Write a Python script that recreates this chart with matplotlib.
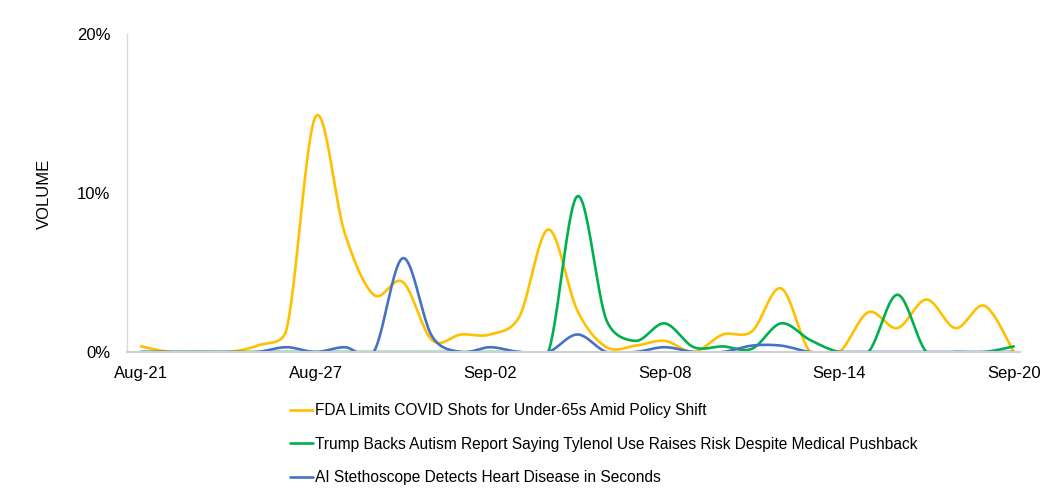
import numpy as np
import matplotlib.pyplot as plt
from matplotlib.ticker import FuncFormatter

plt.rcParams['font.family'] = ['Liberation Sans', 'DejaVu Sans']

# daily dates Aug-21 .. Sep-20
dates = ['Aug-21', 'Aug-22', 'Aug-23', 'Aug-24', 'Aug-25', 'Aug-26', 'Aug-27',
         'Aug-28', 'Aug-29', 'Aug-30', 'Aug-31', 'Sep-01', 'Sep-02', 'Sep-03',
         'Sep-04', 'Sep-05', 'Sep-06', 'Sep-07', 'Sep-08', 'Sep-09', 'Sep-10',
         'Sep-11', 'Sep-12', 'Sep-13', 'Sep-14', 'Sep-15', 'Sep-16', 'Sep-17',
         'Sep-18', 'Sep-19', 'Sep-20']
tick_labels = ['Aug-21', 'Aug-27', 'Sep-02', 'Sep-08', 'Sep-14', 'Sep-20']

fda_covid = [0.35, 0, 0, 0, 0.4, 1.4, 14.8, 7.5, 3.6, 4.4, 0.75, 1.1, 1.1, 2.2,
             7.7, 2.6, 0.3, 0.4, 0.7, 0, 1.1, 1.3, 4.0, 0, 0, 2.5, 1.5, 3.3,
             1.5, 2.9, 0]
tylenol = [0, 0, 0, 0, 0, 0, 0, 0, 0, 0, 0, 0, 0, 0,
           0, 9.8, 2.0, 0.7, 1.8, 0.3, 0.35, 0.2, 1.8, 0.75, 0, 0, 3.6, 0,
           0, 0, 0.35]
stethoscope = [0, 0, 0, 0, 0, 0.3, 0, 0.3, 0, 5.9, 1.0, 0, 0.3, 0,
               0, 1.1, 0, 0, 0.3, 0, 0, 0.4, 0.4, 0, 0, 0, 0, 0,
               0, 0, 0]

labels = ['FDA Limits COVID Shots for Under-65s Amid Policy Shift',
          'Trump Backs Autism Report Saying Tylenol Use Raises Risk Despite Medical Pushback',
          'AI Stethoscope Detects Heart Disease in Seconds']
colors = ['#FFC000', '#00B050', '#4472C4']

# rough pixel size of one day / one percent, used so smoothing behaves like on screen
PX_DAY = 29.1
PX_PCT = 15.9


def smooth(y, steps=24):
    # bezier smoothing with tangents clipped to half the segment, spreadsheet style
    pts = np.column_stack([np.arange(len(y)) * PX_DAY, np.asarray(y, float) * PX_PCT])
    n = len(pts)
    t = np.linspace(0, 1, steps, endpoint=False)[:, None]
    out = []
    for i in range(n - 1):
        p0 = pts[i - 1] if i > 0 else pts[i]
        p1, p2 = pts[i], pts[i + 1]
        p3 = pts[i + 2] if i + 2 < n else pts[i + 1]
        d12 = np.hypot(*(p2 - p1))
        d02 = np.hypot(*(p2 - p0))
        d13 = np.hypot(*(p3 - p1))
        f0 = 1 / 6 if d02 / 6 < d12 / 2 else (d12 / 2) / d02
        f1 = 1 / 6 if d13 / 6 < d12 / 2 else (d12 / 2) / d13
        c1 = p1 + f0 * (p2 - p0)
        c2 = p2 - f1 * (p3 - p1)
        seg = ((1 - t) ** 3 * p1 + 3 * (1 - t) ** 2 * t * c1
               + 3 * (1 - t) * t ** 2 * c2 + t ** 3 * p2)
        out.append(seg)
    out.append(pts[-1][None, :])
    out = np.vstack(out)
    return out[:, 0] / PX_DAY, out[:, 1] / PX_PCT


fig = plt.figure(figsize=(10.61, 4.97), dpi=100)
ax = fig.add_axes([0.1197, 0.2918, 0.8413, 0.6398])

for series, lab, col in zip([fda_covid, tylenol, stethoscope], labels, colors):
    sx, sy = smooth(series)
    ax.plot(sx, sy, color=col, lw=1.9, label=lab, solid_capstyle='round')

ax.set_xlim(-0.48, 30.2)
ax.set_ylim(0, 20)
ax.set_yticks([0, 10, 20])
ax.yaxis.set_major_formatter(FuncFormatter(lambda v, _: f'{v:.0f}%'))
ax.set_xticks([dates.index(d) for d in tick_labels])
ax.set_xticklabels(tick_labels)
ax.tick_params(length=0, labelsize=12, colors='#000000')
ax.tick_params(axis='x', pad=10)
ax.tick_params(axis='y', pad=12)

for s in ['top', 'right']:
    ax.spines[s].set_visible(False)
ax.spines['left'].set_color('#D9D9D9')
ax.spines['left'].set_linewidth(1)
ax.spines['bottom'].set_color('#D0D0D0')
ax.spines['bottom'].set_linewidth(1.5)

fig.text(0.0415, 0.61, 'VOLUME', rotation=90, fontsize=12, ha='center', va='center')

fig.legend(loc='upper left', bbox_to_anchor=(0.273, 0.189), frameon=False,
           fontsize=11.2, handlelength=1.5, handletextpad=0.12, labelspacing=1.2,
           borderaxespad=0, borderpad=0)

fig.savefig('out.png', dpi=100)
